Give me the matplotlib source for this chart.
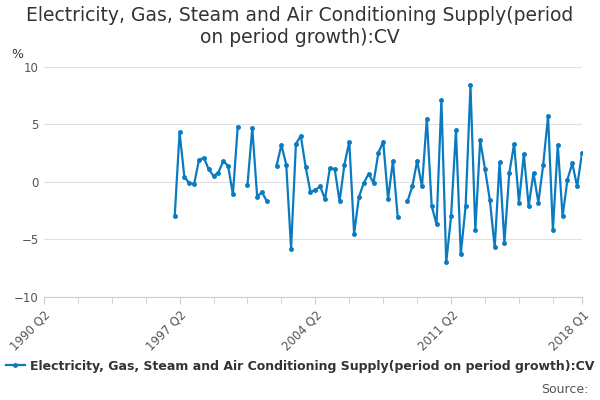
import numpy as np
import matplotlib.pyplot as plt

nan = np.nan
# quarterly values, index 0 = 1990 Q2, index 111 = 2018 Q1
seg1 = [-3.0, 4.3, 0.4, -0.1, -0.2, 1.9, 2.1, 1.1, 0.5, 0.8, 1.8, 1.4, -1.1, 4.8]
seg2 = [-0.3, 4.7, -1.3, -0.9, -1.7]
seg3 = [1.4, 3.2, 1.5, -5.8, 3.3, 4.0, 1.3, -0.9, -0.7, -0.4, -1.5, 1.2, 1.1, -1.7,
        1.5, 3.5, -4.5, -1.3, -0.1, 0.7, -0.1, 2.5, 3.5, -1.5, 1.8, -3.1]
seg4 = [-1.7, -0.4, 1.8, -0.4, 5.5, -2.1, -3.7, 7.1, -7.0, -3.0, 4.5, -6.3, -2.1, 8.4,
        -4.2, 3.6, 1.1, -1.6, -5.7, 1.7, -5.3, 0.75, 3.3, -1.8, 2.4, -2.1, 0.75, -1.8,
        1.5, 5.7, -4.2, 3.2, -3.0, 0.2, 1.6, -0.4, 2.5]
values = [nan] * 27 + seg1 + [nan] + seg2 + [nan] + seg3 + [nan] + seg4
tick_pos = [0, 28, 56, 84, 111]
tick_labels = ['1990 Q2', '1997 Q2', '2004 Q2', '2011 Q2', '2018 Q1']

x = np.arange(len(values))
fig = plt.figure(figsize=(6, 4), dpi=100)
ax = fig.add_axes([0.073, 0.258, 0.897, 0.575])
color = '#0a7bc1'
ax.plot(x, values, color=color, lw=1.6, marker='o', ms=2.5,
        label='Electricity, Gas, Steam and Air Conditioning Supply(period on period growth):CV')
ax.set_xlim(0, 111)
ax.set_ylim(-10, 10)
ax.set_yticks([-10, -5, 0, 5, 10])
ax.yaxis.grid(True, color='#e0e0e0', lw=0.8)
ax.set_axisbelow(True)
for s in ['top', 'right', 'left']:
    ax.spines[s].set_visible(False)
ax.spines['bottom'].set_color('#cccccc')
ax.set_xticks(tick_pos)
ax.set_xticklabels(tick_labels, rotation=45, ha='right', rotation_mode='anchor')
ax.set_xticks(np.arange(0, 112, 7), minor=True)
ax.tick_params(axis='x', which='both', length=5, color='#cccccc', labelsize=8.5, labelcolor='#555555')
ax.tick_params(axis='y', length=0, labelsize=8.5, labelcolor='#555555')
ax.text(-0.06, 1.04, '%', transform=ax.transAxes, fontsize=9, color='#333333')
fig.suptitle('Electricity, Gas, Steam and Air Conditioning Supply(period\non period growth):CV',
             fontsize=13.5, color='#333333', y=0.985)
fig.legend(loc='lower center', bbox_to_anchor=(0.5, 0.04), frameon=False,
           prop={'weight': 'bold', 'size': 9}, handlelength=1.5, handletextpad=0.4,
           labelcolor='#333333')
fig.text(0.98, 0.01, 'Source:', ha='right', va='bottom', fontsize=9, color='#555555')
fig.savefig('out.png')
